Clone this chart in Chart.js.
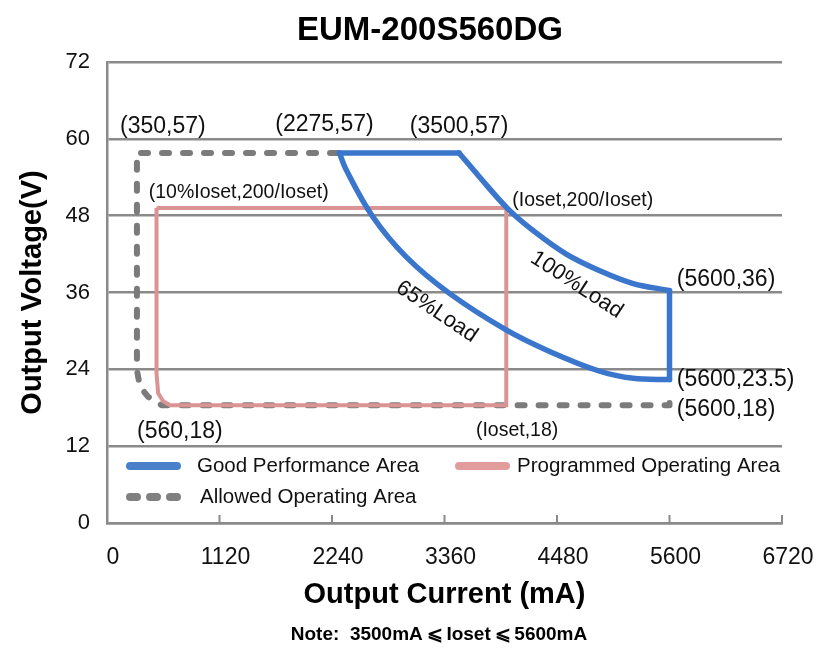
<!DOCTYPE html>
<html>
<head>
<meta charset="utf-8">
<title>EUM-200S560DG</title>
<script src="https://cdn.jsdelivr.net/npm/chart.js@4.4.0/dist/chart.umd.min.js"></script>
<style>
  html, body { margin: 0; padding: 0; background: #fff; }
  #chart { display: block; }
</style>
</head>
<body>
<canvas id="chart" width="839" height="668"></canvas>
<script>
// values (current in mA, voltage in V)
const xTickValues = [0, 1120, 2240, 3360, 4480, 5600, 6720];
const yTickValues = [0, 12, 24, 36, 48, 60, 72];

// Good Performance Area, drawn as four pieces of one outline
const goodTopI = [2314, 3505];
const goodTopV = [57.8, 57.8];
const load100I = [3505, 3700, 3989, 4240, 4572, 4906, 5239, 5600];
const load100V = [57.8, 54.2, 49.1, 45.7, 42.0, 39.4, 37.4, 36.3];
const goodRightI = [5600, 5600];
const goodRightV = [36.3, 22.4];
const load65I = [5600, 5239, 4906, 4406, 3969, 3406, 2976, 2643, 2380, 2314];
const load65V = [22.4, 22.6, 23.7, 26.8, 30.2, 35.9, 41.6, 47.9, 55.2, 57.8];

// Programmed Operating Area (Ioset = 4000 mA in the drawing)
const progI = [493, 3975, 3975, 626, 559, 509, 493, 493];
const progV = [49.2, 49.2, 18.4, 18.4, 19.0, 20.3, 23.4, 49.2];

// Allowed Operating Area
const allowI = [2290, 298, 298, 328, 410, 543, 5600, 5600];
const allowV = [57.8, 57.8, 23.9, 21.3, 19.7, 18.4, 18.4, 20.0];

// text labels in data coordinates
const pointLabels = [
  { text: '(350,57)', x: 556, y: 61.9, size: 23, align: 'center' },
  { text: '(2275,57)', x: 2165, y: 62.2, size: 23, align: 'center' },
  { text: '(3500,57)', x: 3505, y: 61.9, size: 23, align: 'center' },
  { text: '(10%Ioset,200/Ioset)', x: 1311, y: 51.6, size: 19.5, align: 'center' },
  { text: '(Ioset,200/Ioset)', x: 4737, y: 50.3, size: 19.5, align: 'center' },
  { text: '(5600,36)', x: 5673, y: 38.0, size: 23, align: 'left' },
  { text: '(5600,23.5)', x: 5673, y: 22.4, size: 23, align: 'left' },
  { text: '(5600,18)', x: 5673, y: 17.7, size: 23, align: 'left' },
  { text: '(560,18)', x: 725, y: 14.2, size: 23, align: 'center' },
  { text: '(Ioset,18)', x: 4083, y: 14.5, size: 19.5, align: 'center' }
];
const loadLabels = [
  { text: '100%Load', x: 4677, y: 37.2, angle: 33 },
  { text: '65%Load', x: 3282, y: 33.0, angle: 34 }
];

const FONT = '"Liberation Sans", Arial, sans-serif';
const BLUE = '#3a76cc';
const PINK = '#da9494';
const GRAY = '#7b7b7b';
const GRID = '#8a8a8a';

function toPoints(xs, ys) {
  return xs.map((x, i) => ({ x: x, y: ys[i] }));
}

function bluePiece(label, xs, ys, tension) {
  return {
    label: label,
    data: toPoints(xs, ys),
    showLine: true,
    borderColor: BLUE,
    borderWidth: 5.5,
    borderCapStyle: 'round',
    pointRadius: 0,
    tension: tension,
    fill: false
  };
}

const decor = {
  id: 'decor',
  afterDatasetsDraw(chart) {
    const ctx = chart.ctx;
    const xs = chart.scales.x;
    const ys = chart.scales.y;
    const area = chart.chartArea;
    ctx.save();

    // small tick marks pointing up from the x axis
    ctx.strokeStyle = GRID;
    ctx.lineWidth = 2;
    xTickValues.forEach(v => {
      if (v === 0) return;
      const px = xs.getPixelForValue(v);
      ctx.beginPath();
      ctx.moveTo(px, area.bottom);
      ctx.lineTo(px, area.bottom - 8);
      ctx.stroke();
    });

    ctx.fillStyle = '#111';
    ctx.textBaseline = 'middle';
    pointLabels.forEach(l => {
      ctx.font = l.size + 'px ' + FONT;
      ctx.textAlign = l.align;
      ctx.fillText(l.text, xs.getPixelForValue(l.x), ys.getPixelForValue(l.y));
    });

    ctx.font = '22px ' + FONT;
    ctx.textAlign = 'center';
    loadLabels.forEach(l => {
      ctx.save();
      ctx.translate(xs.getPixelForValue(l.x), ys.getPixelForValue(l.y));
      ctx.rotate(l.angle * Math.PI / 180);
      ctx.fillText(l.text, 0, 0);
      ctx.restore();
    });

    // legend inside the plot
    const row1 = area.bottom - 57;
    const row2 = area.bottom - 26;
    const ds = chart.data.datasets;
    const items = [
      { label: ds[0].label, color: '#4a80c9', x: area.left + 19, y: row1, tx: area.left + 90 },
      { label: ds[4].label, color: '#e29c9c', x: area.left + 348, y: row1, tx: area.left + 410 },
      { label: ds[5].label, color: '#808080', x: area.left + 19, y: row2, tx: area.left + 93, dash: [7, 13] }
    ];
    ctx.lineCap = 'round';
    ctx.lineWidth = 8;
    items.forEach(it => {
      ctx.strokeStyle = it.color;
      ctx.setLineDash(it.dash || []);
      ctx.beginPath();
      ctx.moveTo(it.x + 4, it.y);
      ctx.lineTo(it.x + 51, it.y);
      ctx.stroke();
      ctx.setLineDash([]);
      ctx.font = '20.5px ' + FONT;
      ctx.textAlign = 'left';
      ctx.fillStyle = '#111';
      ctx.fillText(it.label, it.tx, it.y);
    });

    // chart title and note
    ctx.fillStyle = '#000';
    ctx.textAlign = 'center';
    ctx.font = 'bold 33px ' + FONT;
    ctx.fillText('EUM-200S560DG', 430, 31);
    ctx.font = 'bold 19px ' + FONT;
    ctx.fillText('Note:  3500mA\u2009\u2A7D\u2009Ioset\u2009\u2A7D\u20095600mA', 439, 635);
    ctx.restore();
  }
};

const ctx = document.getElementById('chart').getContext('2d');
new Chart(ctx, {
  type: 'scatter',
  data: {
    datasets: [
      bluePiece('Good Performance Area', goodTopI, goodTopV, 0),
      bluePiece('Good Performance Area (100% load)', load100I, load100V, 0.35),
      bluePiece('Good Performance Area (right)', goodRightI, goodRightV, 0),
      bluePiece('Good Performance Area (65% load)', load65I, load65V, 0.35),
      {
        label: 'Programmed Operating Area',
        data: toPoints(progI, progV),
        showLine: true,
        borderColor: PINK,
        borderWidth: 4,
        pointRadius: 0,
        tension: 0,
        fill: false
      },
      {
        label: 'Allowed Operating Area',
        data: toPoints(allowI, allowV),
        showLine: true,
        borderColor: GRAY,
        borderWidth: 6,
        borderDash: [7, 14],
        borderCapStyle: 'round',
        borderJoinStyle: 'round',
        pointRadius: 0,
        tension: 0,
        fill: false
      }
    ]
  },
  options: {
    responsive: false,
    animation: false,
    layout: { padding: { top: 62, right: 57, bottom: 56, left: 0 } },
    plugins: {
      legend: { display: false },
      tooltip: { enabled: false }
    },
    scales: {
      x: {
        type: 'linear',
        min: xTickValues[0],
        max: xTickValues[xTickValues.length - 1],
        afterBuildTicks: s => { s.ticks = xTickValues.map(v => ({ value: v })); },
        afterFit: s => { s.height = 89; },
        grid: { display: false, drawTicks: false },
        border: { display: true, color: GRID, width: 2.5 },
        ticks: {
          padding: 21,
          labelOffset: 6,
          maxRotation: 0,
          autoSkip: false,
          color: '#111',
          font: { family: FONT, size: 23 },
          callback: v => String(v)
        },
        title: {
          display: true,
          text: 'Output Current (mA)',
          color: '#000',
          padding: 0,
          font: { family: FONT, size: 29, weight: 'bold' }
        }
      },
      y: {
        type: 'linear',
        min: yTickValues[0],
        max: yTickValues[yTickValues.length - 1],
        afterBuildTicks: s => { s.ticks = yTickValues.map(v => ({ value: v })); },
        afterFit: s => { s.width = 107; },
        grid: { color: GRID, lineWidth: 2.5, drawTicks: false },
        border: { display: true, color: GRID, width: 2.5 },
        ticks: {
          padding: 17,
          color: '#111',
          font: { family: FONT, size: 22 },
          callback: v => String(v)
        },
        title: {
          display: true,
          text: 'Output Voltage(V)',
          color: '#000',
          padding: { top: 16, bottom: 0 },
          font: { family: FONT, size: 29, weight: 'bold' }
        }
      }
    }
  },
  plugins: [decor]
});
</script>
</body>
</html>
